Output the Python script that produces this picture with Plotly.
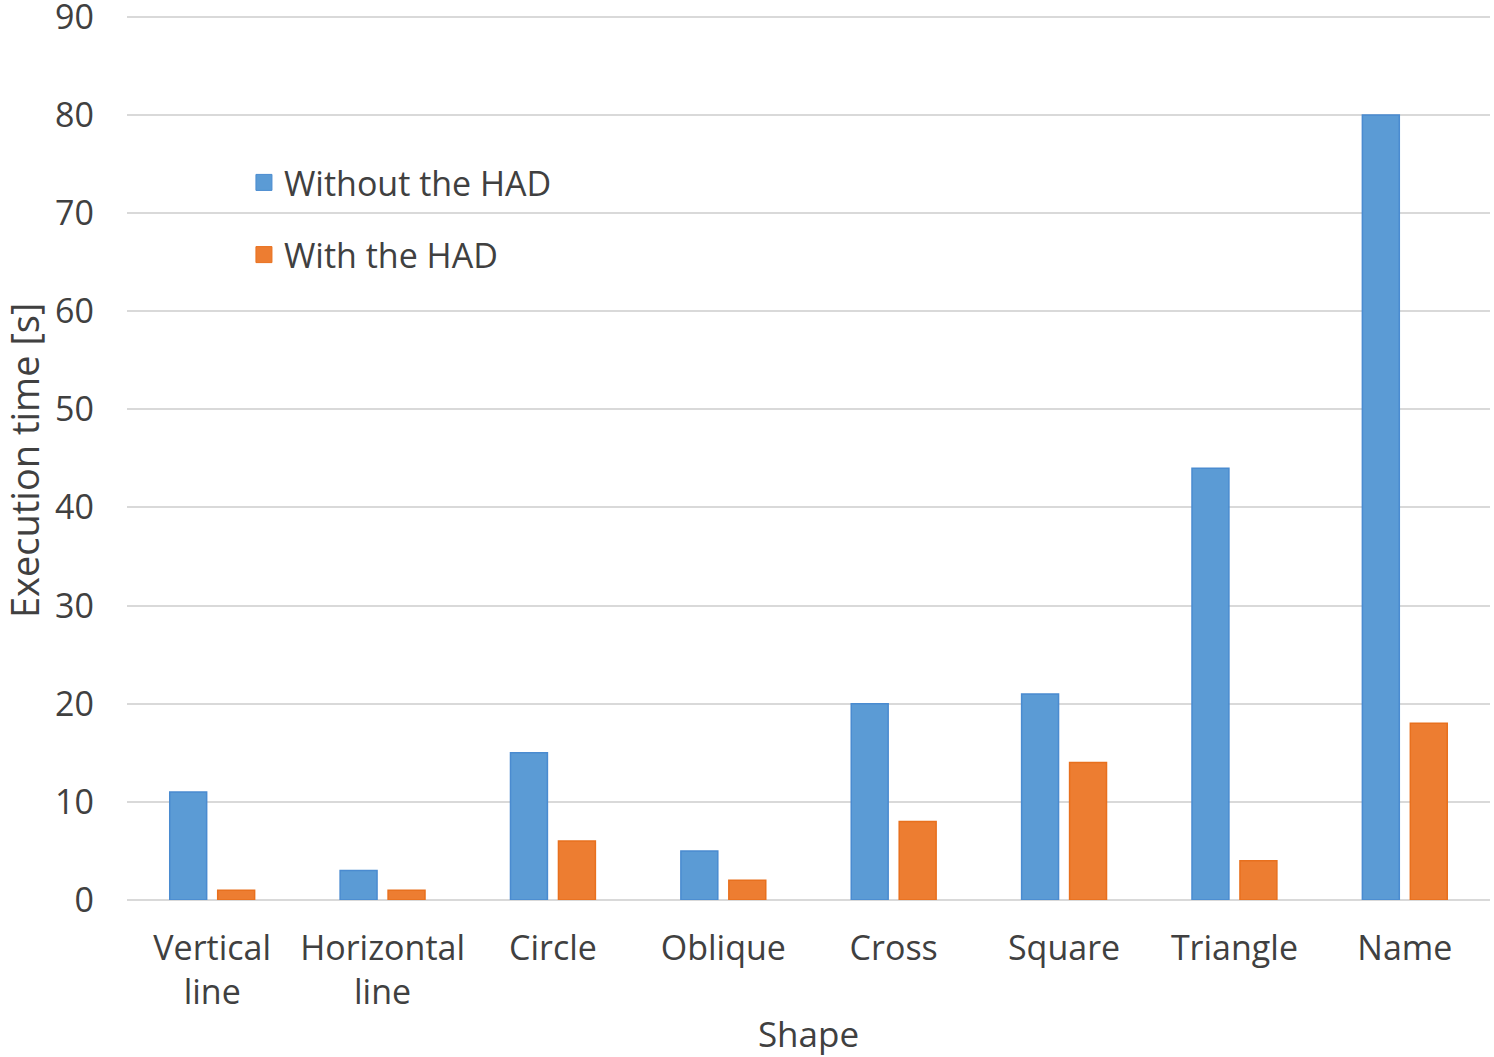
import plotly.graph_objects as go

categories = ["Vertical<br>line", "Horizontal<br>line", "Circle", "Oblique", "Cross", "Square", "Triangle", "Name"]
without_had = [11, 3, 15, 5, 20, 21, 44, 80]
with_had = [1, 1, 6, 2, 8, 14, 4, 18]
y_ticks = [0, 10, 20, 30, 40, 50, 60, 70, 80, 90]

FONT = "Open Sans"
TXT = "#404040"
BLUE = "#5B9BD5"
ORANGE = "#ED7D31"

fig = go.Figure()
fig.add_trace(go.Bar(x=categories, y=without_had, name="Without the HAD", showlegend=False,
                     marker=dict(color=BLUE, line=dict(color="#4A8BD0", width=1.5))))
fig.add_trace(go.Bar(x=categories, y=with_had, name="With the HAD", showlegend=False,
                     marker=dict(color=ORANGE, line=dict(color="#E8701E", width=1.5))))
# legend entries with larger square swatches
fig.add_trace(go.Scatter(x=[None], y=[None], mode="markers", name="Without the HAD", legendgroup="a",
                         marker=dict(symbol="square", size=19, color=BLUE, line=dict(color="#4A8BD0", width=1))))
fig.add_trace(go.Scatter(x=[None], y=[None], mode="markers", name="With the HAD", legendgroup="b",
                         marker=dict(symbol="square", size=19, color=ORANGE, line=dict(color="#E8701E", width=1))))

fig.update_layout(
    width=1494, height=1057,
    margin=dict(l=127, r=4, t=7, b=157, autoexpand=False),
    paper_bgcolor="white", plot_bgcolor="white",
    font=dict(family=FONT, size=34, color=TXT),
    barmode="group", bargap=0.437, bargroupgap=0.23,
    showlegend=True,
    legend=dict(x=0.0858, y=0.8356, xanchor="left", yanchor="top",
                bgcolor="rgba(0,0,0,0)", font=dict(size=34, color=TXT),
                traceorder="grouped", tracegroupgap=25, itemwidth=30),
    annotations=[dict(text="Execution time [s]", textangle=-90, showarrow=False,
                      xref="paper", yref="paper", x=-0.0755, y=0.4927,
                      xanchor="center", yanchor="middle", borderpad=0,
                      font=dict(size=38, color=TXT, family=FONT))],
)
fig.update_xaxes(
    title=dict(text="Shape", font=dict(size=35, color=TXT), standoff=10),
    showgrid=False, showline=False, ticks="", automargin=False, ticklabelstandoff=25,
    tickfont=dict(size=34, color=TXT),
)
fig.update_yaxes(
    range=[0, 91], tickvals=y_ticks, showgrid=True, gridcolor="#D9D9D9", gridwidth=2,
    zeroline=True, zerolinecolor="#D9D9D9", zerolinewidth=2,
    showline=False, ticks="", ticklabelstandoff=32, automargin=False,
    ticklabeloverflow="allow",
    tickfont=dict(size=34, color=TXT),
)

fig.write_html("out.html", config={"displayModeBar": False},
               post_script="document.body.style.margin='0';")
